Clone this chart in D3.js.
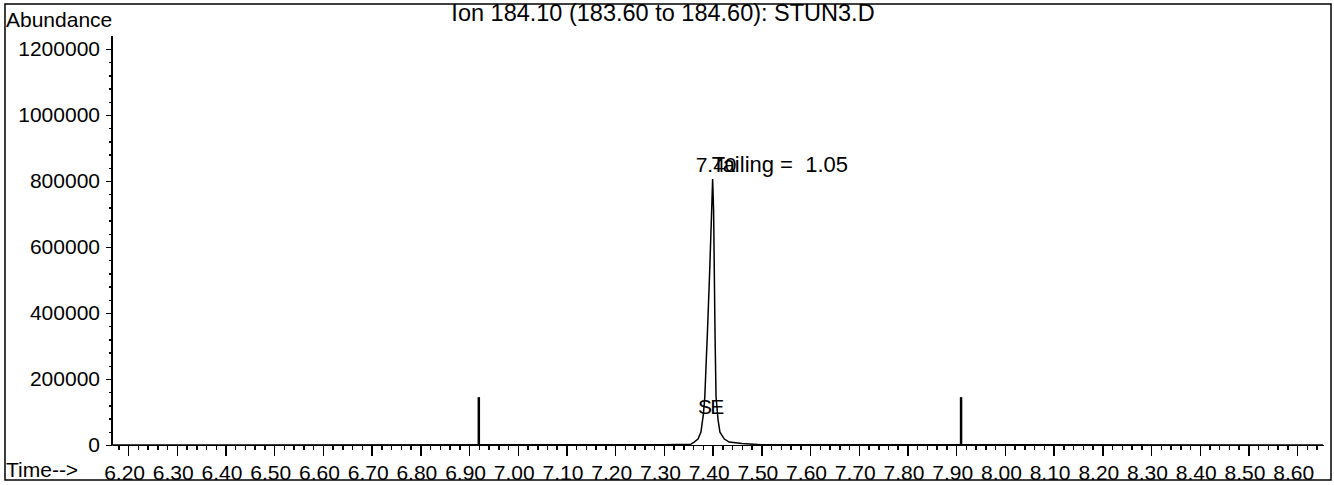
<!DOCTYPE html>
<meta charset="utf-8">
<head>
  <title>Ion chromatogram</title>
</head>

<style>
body { margin: 0; background: #fff; }
svg text { font-family: "Liberation Sans", Arial, sans-serif; font-size: 21px; fill: #000; white-space: pre; }
.axis path, .axis line { stroke: #000; stroke-width: 1.5; shape-rendering: crispEdges; }
.trace { fill: none; stroke: #000; stroke-width: 1.5; }
</style>

<body>
  <svg width="1334" height="485"></svg>

  <script src="https://cdn.jsdelivr.net/npm/d3@7/dist/d3.min.js"></script>
  <script>
// retention time (min) and abundance of the trace
var times = [6.167, 7.300, 7.355, 7.362, 7.370, 7.376, 7.381, 7.384, 7.387, 7.389, 7.394, 7.398,
             7.400, 7.402, 7.405, 7.407, 7.411, 7.415, 7.424, 7.434, 7.460, 7.500, 8.653];
var abundance = [0, 1000, 2000, 9000, 18000, 39000, 93000, 147000, 259000, 328000, 529000, 710000,
                 806000, 710000, 328000, 147000, 78000, 39000, 18000, 9000, 4500, 1000, 0];

var xTicks = [6.20, 6.30, 6.40, 6.50, 6.60, 6.70, 6.80, 6.90, 7.00, 7.10, 7.20, 7.30, 7.40,
              7.50, 7.60, 7.70, 7.80, 7.90, 8.00, 8.10, 8.20, 8.30, 8.40, 8.50, 8.60];
var yTicks = [0, 200000, 400000, 600000, 800000, 1000000, 1200000];

// integration window markers
var markerTimes = [6.92, 7.91];
var markerHeight = 145000;

var title = "Ion 184.10 (183.60 to 184.60): STUN3.D";
var peakTime = 7.40;
var tailing = "Tailing =  1.05";

var svg = d3.select("svg");

var x = d3.scaleLinear().domain([6.167, 8.653]).range([112, 1323]);
var y = d3.scaleLinear().domain([0, 1200000]).range([445, 49]);

// frame
svg.append("rect")
  .attr("x", 5).attr("y", 4).attr("width", 1326).attr("height", 476)
  .attr("fill", "none").attr("stroke", "#000").attr("stroke-width", 1.5);

// minor ticks
var xMinor = d3.range(6.18, 8.66, 0.02).filter(function(t) { return t <= 8.653; });
svg.append("g").attr("class", "axis")
  .attr("transform", "translate(0,445)")
  .call(d3.axisBottom(x).tickValues(xMinor).tickSize(5).tickFormat(""))
  .select(".domain").remove();

var xAxis = svg.append("g").attr("class", "axis")
  .attr("transform", "translate(0,445)")
  .call(d3.axisBottom(x).tickValues(xTicks).tickSizeInner(11).tickSizeOuter(0)
    .tickPadding(9).tickFormat(d3.format(".2f")));
xAxis.selectAll("text").attr("font-size", 21).attr("dx", -4).attr("font-family", null);

var yMinor = d3.range(0, 1240000, 40000);
svg.append("g").attr("class", "axis")
  .attr("transform", "translate(112,0)")
  .call(d3.axisLeft(y).tickValues(yMinor).tickSize(3).tickFormat(""))
  .select(".domain").remove();

var yAxis = svg.append("g").attr("class", "axis")
  .attr("transform", "translate(112,0)")
  .call(d3.axisLeft(y).tickValues(yTicks).tickSizeInner(6).tickSizeOuter(0)
    .tickPadding(6).tickFormat(d3.format("d")));
yAxis.selectAll("text").attr("font-size", 21).attr("font-family", null);
yAxis.select(".domain").attr("d", "M0,445V36");

// labels
svg.append("text").attr("x", 6).attr("y", 27).text("Abundance");
svg.append("text").attr("x", 6).attr("y", 477).text("Time-->");
svg.append("text").attr("x", 663).attr("y", 21).attr("text-anchor", "middle")
  .style("font-size", "23.5px").text(title);

// trace
var pts = times.map(function(t, i) { return [t, abundance[i]]; });
svg.append("path")
  .datum(pts)
  .attr("class", "trace")
  .attr("d", d3.line().x(function(d) { return x(d[0]); }).y(function(d) { return y(d[1]); }));

// markers
svg.selectAll(".marker")
  .data(markerTimes)
  .enter().append("line")
  .attr("class", "marker")
  .attr("x1", function(d) { return x(d); }).attr("x2", function(d) { return x(d); })
  .attr("y1", y(0)).attr("y2", y(markerHeight))
  .attr("stroke", "#000").attr("stroke-width", 2.5);

// peak annotations
svg.append("text").attr("x", x(peakTime) - 17).attr("y", 172).text("7.40");
svg.append("text").attr("x", x(peakTime) - 1).attr("y", 172).style("font-size", "22px").text(tailing);
svg.append("text").attr("x", x(7.370)).attr("y", 414).text("S");
svg.append("text").attr("x", x(7.395)).attr("y", 414).text("E");
  </script>
</body>
</html>
